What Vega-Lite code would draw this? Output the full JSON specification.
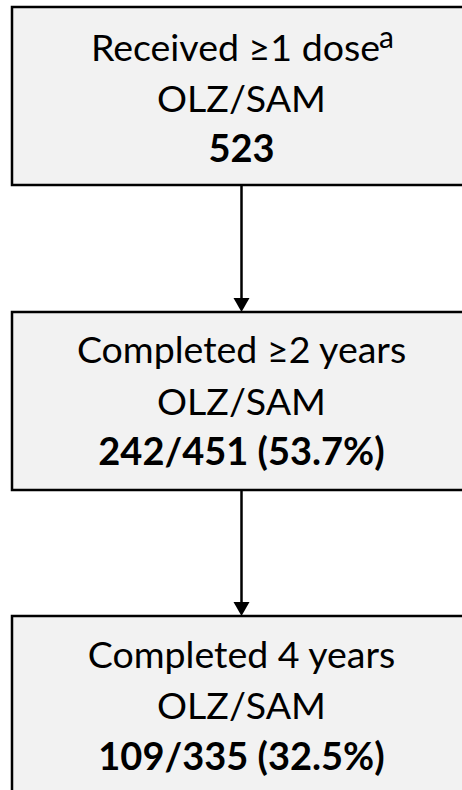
{
  "$schema": "https://vega.github.io/schema/vega-lite/v6.json",
  "width": 462,
  "height": 790,
  "autosize": {"type": "fit", "contains": "padding"},
  "padding": 0,
  "background": "white",
  "config": {"view": {"stroke": null}},
  "datasets": {
    "boxes": [
      {"stage": "Received", "x0": 12, "x1": 470, "y0": 7, "y1": 185},
      {"stage": "Completed 2y", "x0": 12, "x1": 470, "y0": 312, "y1": 490},
      {"stage": "Completed 4y", "x0": 12, "x1": 470, "y0": 616, "y1": 800}
    ],
    "arrows": [
      {"x": 241.5, "y0": 185, "y1": 302, "yh": 305},
      {"x": 241.5, "y0": 490, "y1": 606, "yh": 609}
    ],
    "texts": [
      {"label": "Received ≥1 dose", "x": 380, "y": 61, "w": "normal", "a": "right"},
      {"label": "OLZ/SAM", "x": 241.5, "y": 112, "w": "normal", "a": "center"},
      {"label": "523", "x": 241.5, "y": 162, "w": "bold", "a": "center"},
      {"label": "Completed ≥2 years", "x": 241.5, "y": 363, "w": "normal", "a": "center"},
      {"label": "OLZ/SAM", "x": 241.5, "y": 415, "w": "normal", "a": "center"},
      {"label": "242/451 (53.7%)", "x": 241.5, "y": 465, "w": "bold", "a": "center"},
      {"label": "Completed 4 years", "x": 241.5, "y": 668, "w": "normal", "a": "center"},
      {"label": "OLZ/SAM", "x": 241.5, "y": 719, "w": "normal", "a": "center"},
      {"label": "109/335 (32.5%)", "x": 241.5, "y": 770, "w": "bold", "a": "center"}
    ],
    "sup": [
      {"label": "a", "x": 379, "y": 48}
    ]
  },
  "layer": [
    {
      "data": {"name": "boxes"},
      "mark": {"type": "rect", "fill": "#f2f2f2", "stroke": "#000000", "strokeWidth": 2.5, "clip": true},
      "encoding": {
        "x": {"field": "x0", "type": "quantitative", "scale": {"domain": [0, 462], "nice": false, "zero": false}, "axis": null},
        "x2": {"field": "x1"},
        "y": {"field": "y0", "type": "quantitative", "scale": {"domain": [0, 790], "nice": false, "zero": false, "reverse": true}, "axis": null},
        "y2": {"field": "y1"}
      }
    },
    {
      "data": {"name": "arrows"},
      "mark": {"type": "rule", "stroke": "#000000", "strokeWidth": 2.5},
      "encoding": {
        "x": {"field": "x", "type": "quantitative"},
        "y": {"field": "y0", "type": "quantitative"},
        "y2": {"field": "y1"}
      }
    },
    {
      "data": {"name": "arrows"},
      "mark": {"type": "point", "shape": "triangle-down", "filled": true, "fill": "#000000", "stroke": null, "size": 256, "opacity": 1},
      "encoding": {
        "x": {"field": "x", "type": "quantitative"},
        "y": {"field": "yh", "type": "quantitative"}
      }
    },
    {
      "data": {"name": "texts"},
      "transform": [{"filter": "datum.w === 'normal' && datum.a === 'center'"}],
      "mark": {"type": "text", "font": "Lato", "fontSize": 37.5, "color": "#000000", "align": "center", "baseline": "alphabetic"},
      "encoding": {
        "x": {"field": "x", "type": "quantitative"},
        "y": {"field": "y", "type": "quantitative"},
        "text": {"field": "label"}
      }
    },
    {
      "data": {"name": "texts"},
      "transform": [{"filter": "datum.a === 'right'"}],
      "mark": {"type": "text", "font": "Lato", "fontSize": 37.5, "color": "#000000", "align": "right", "baseline": "alphabetic"},
      "encoding": {
        "x": {"field": "x", "type": "quantitative"},
        "y": {"field": "y", "type": "quantitative"},
        "text": {"field": "label"}
      }
    },
    {
      "data": {"name": "texts"},
      "transform": [{"filter": "datum.w === 'bold'"}],
      "mark": {"type": "text", "font": "Lato", "fontSize": 38, "fontWeight": "bold", "color": "#000000", "align": "center", "baseline": "alphabetic"},
      "encoding": {
        "x": {"field": "x", "type": "quantitative"},
        "y": {"field": "y", "type": "quantitative"},
        "text": {"field": "label"}
      }
    },
    {
      "data": {"name": "sup"},
      "mark": {"type": "text", "font": "Lato", "fontSize": 30, "color": "#000000", "align": "left", "baseline": "alphabetic"},
      "encoding": {
        "x": {"field": "x", "type": "quantitative"},
        "y": {"field": "y", "type": "quantitative"},
        "text": {"field": "label"}
      }
    }
  ]
}
